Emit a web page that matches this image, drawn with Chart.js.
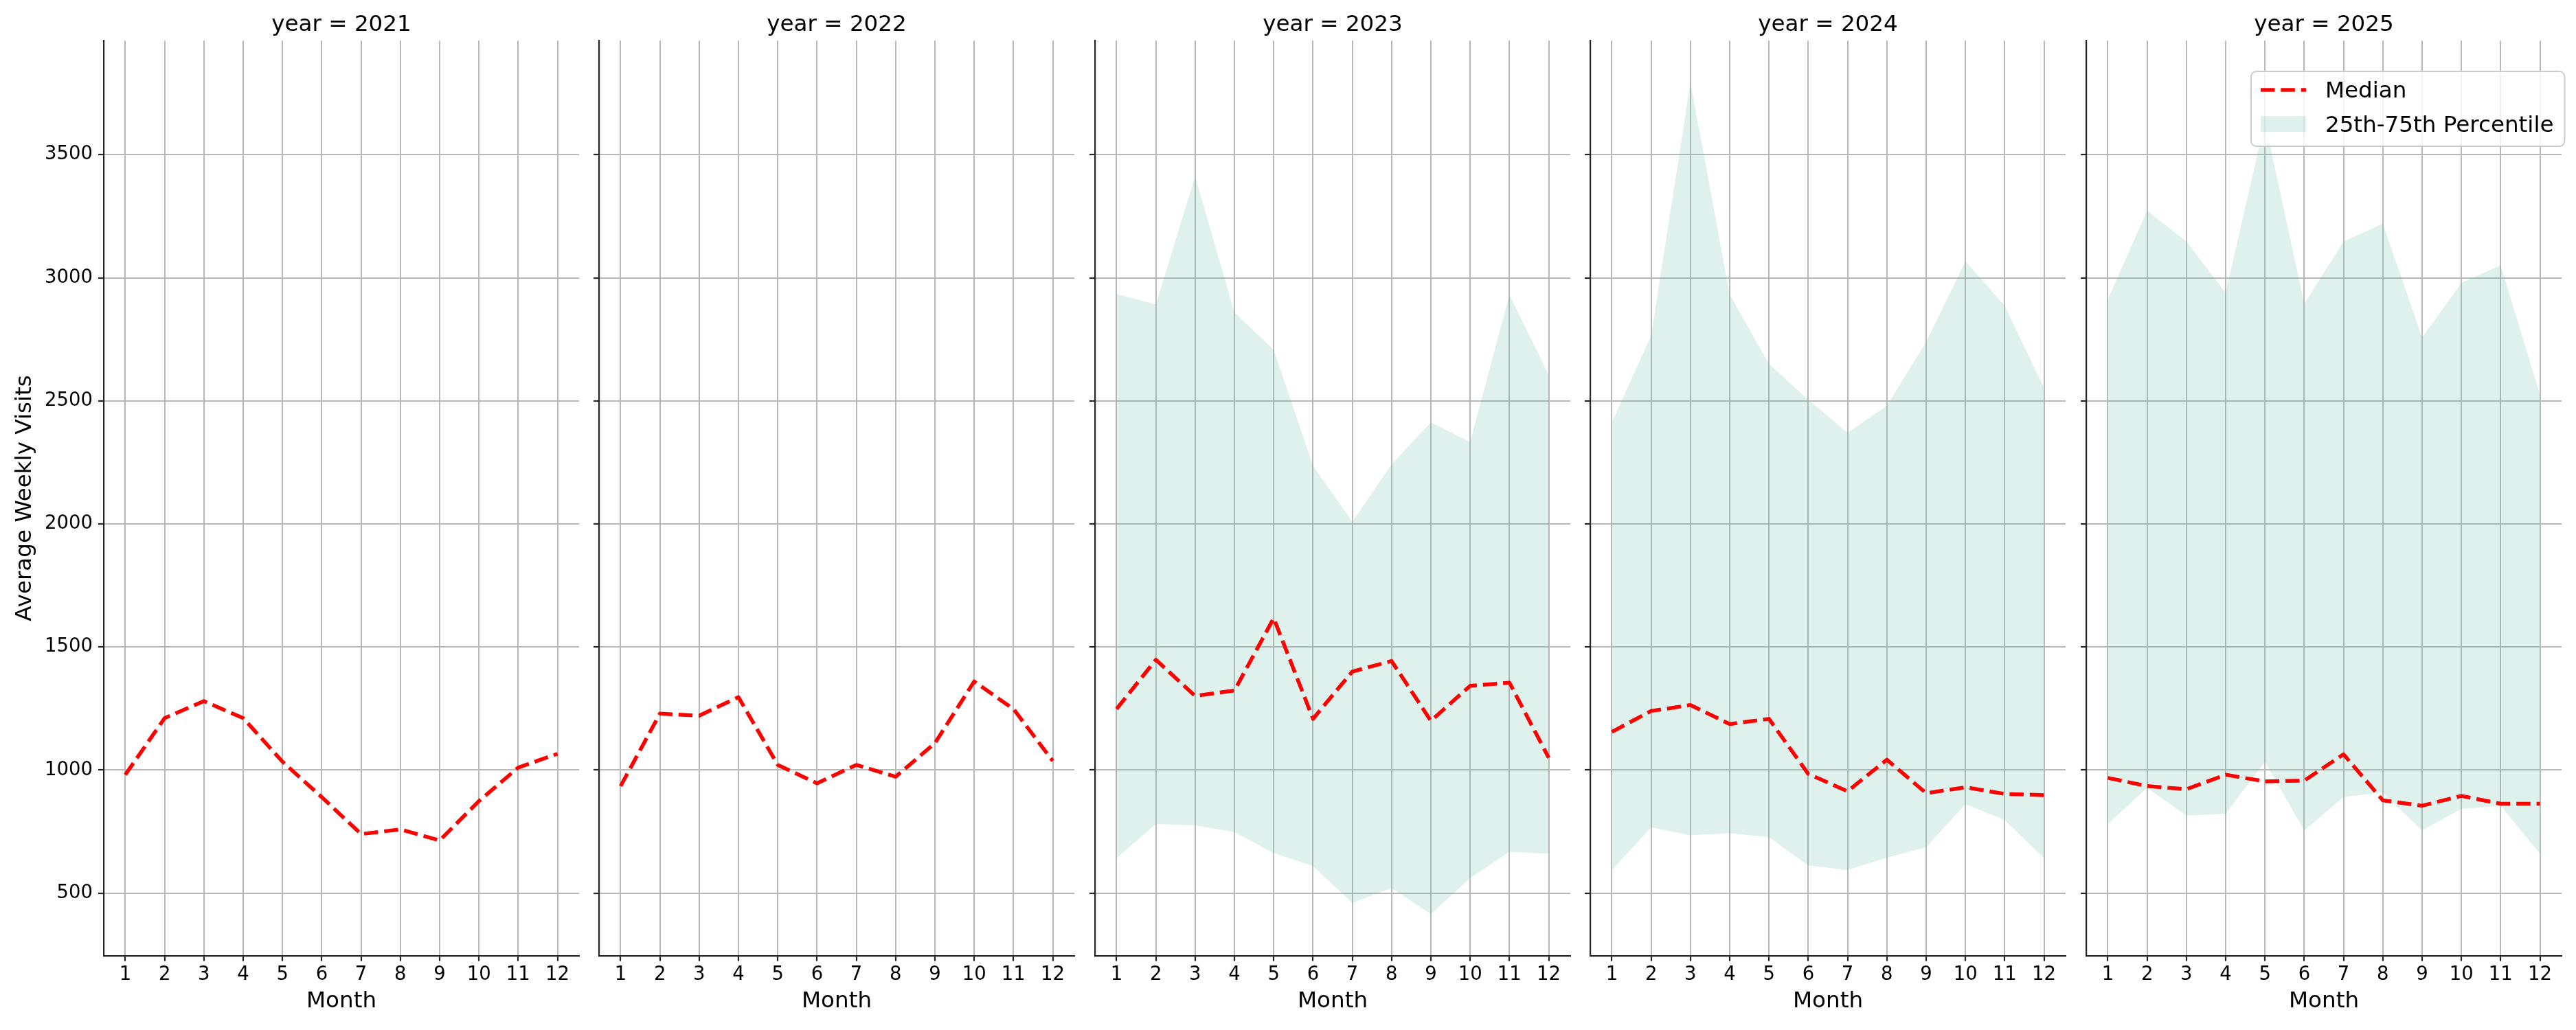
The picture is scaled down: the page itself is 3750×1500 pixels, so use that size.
<!DOCTYPE html>
<html>
<head>
<meta charset="utf-8">
<script src="https://cdn.jsdelivr.net/npm/chart.js@4.4.1/dist/chart.umd.min.js"></script>
<style>
  html, body { margin: 0; padding: 0; background: #fff; overflow: hidden; }
  #wrap { position: relative; width: 3750px; height: 1500px; }
</style>
</head>
<body>
<div id="wrap"></div>
<script>
// data
const years = [2021, 2022, 2023, 2024, 2025];
const months = [1, 2, 3, 4, 5, 6, 7, 8, 9, 10, 11, 12];
const yTicks = [500, 1000, 1500, 2000, 2500, 3000, 3500];

const median2021 = [981, 1211, 1280, 1211, 1034, 890, 740, 759, 714, 874, 1010, 1066];
const median2022 = [935, 1229, 1221, 1296, 1021, 946, 1021, 973, 1109, 1360, 1248, 1037];

const median2023 = [1248, 1448, 1301, 1323, 1617, 1208, 1400, 1443, 1200, 1342, 1355, 1050];
const p25_2023 = [642, 781, 775, 748, 663, 610, 460, 521, 415, 561, 668, 660];
const p75_2023 = [2934, 2891, 3412, 2859, 2707, 2236, 2009, 2242, 2413, 2333, 2931, 2605];

const median2024 = [1155, 1240, 1264, 1187, 1208, 984, 914, 1042, 906, 930, 903, 898];
const p25_2024 = [594, 767, 735, 743, 727, 612, 594, 644, 687, 861, 797, 642];
const p75_2024 = [2413, 2765, 3794, 2931, 2650, 2504, 2370, 2480, 2739, 3067, 2886, 2552];

const median2025 = [968, 935, 922, 981, 954, 957, 1064, 877, 855, 895, 863, 863];
const p25_2025 = [781, 927, 815, 823, 1034, 754, 890, 909, 754, 842, 855, 660];
const p75_2025 = [2912, 3273, 3147, 2939, 3635, 2894, 3147, 3220, 2757, 2979, 3051, 2525];

const medians = [median2021, median2022, median2023, median2024, median2025];
const lows = [null, null, p25_2023, p25_2024, p25_2025];
const highs = [null, null, p75_2023, p75_2024, p75_2025];

// shared limits, 5% margins like matplotlib
const allVals = medians.concat(lows, highs).filter(Boolean).flat();
const vMin = Math.min(...allVals), vMax = Math.max(...allVals);
const yMin = vMin - 0.05 * (vMax - vMin);
const yMax = vMax + 0.05 * (vMax - vMin);
const xMin = months[0] - 0.05 * (months[months.length - 1] - months[0]);
const xMax = months[months.length - 1] + 0.05 * (months[months.length - 1] - months[0]);

const spine = '#262626';
const gridCol = '#b8b8b8';
const bandCol = 'rgba(95,185,160,0.2)';
const tickSize = 27.5, labelSize = 32.6;

Chart.defaults.font.family = "'DejaVu Sans', sans-serif";
Chart.defaults.color = '#000';
Chart.defaults.animation = false;

// legend box drawn inside the last panel (upper right)
const cornerLegend = {
  id: 'cornerLegend',
  afterDraw(chart) {
    const ctx = chart.ctx, a = chart.chartArea;
    const med = chart.data.datasets[0];
    const band = chart.data.datasets[2];
    ctx.save();
    ctx.font = labelSize + "px 'DejaVu Sans'";
    const textW = Math.max(ctx.measureText(med.label).width, ctx.measureText(band.label).width);
    const handle = 66, padL = 14, gap = 28, padR = 16, h = 109, r = 8;
    const w = padL + handle + gap + textW + padR;
    const right = a.right + 4.5, top = a.top + 44.7, left = right - w;
    ctx.beginPath();
    ctx.moveTo(left + r, top);
    ctx.arcTo(right, top, right, top + h, r);
    ctx.arcTo(right, top + h, left, top + h, r);
    ctx.arcTo(left, top + h, left, top, r);
    ctx.arcTo(left, top, right, top, r);
    ctx.closePath();
    ctx.fillStyle = 'rgba(255,255,255,0.8)';
    ctx.fill();
    ctx.strokeStyle = '#cccccc';
    ctx.lineWidth = 2;
    ctx.stroke();

    const hx = left + padL;
    ctx.setLineDash(med.borderDash);
    ctx.strokeStyle = med.borderColor;
    ctx.lineWidth = med.borderWidth;
    ctx.beginPath();
    ctx.moveTo(hx, top + 27);
    ctx.lineTo(hx + handle, top + 27);
    ctx.stroke();
    ctx.setLineDash([]);
    ctx.fillStyle = band.backgroundColor;
    ctx.fillRect(hx, top + 65, handle, 23);

    ctx.fillStyle = '#000';
    ctx.textBaseline = 'alphabetic';
    ctx.textAlign = 'left';
    ctx.fillText(med.label, hx + handle + gap, top + 37.7);
    ctx.fillText(band.label, hx + handle + gap, top + 87.7);
    ctx.restore();
  }
};

const wrap = document.getElementById('wrap');
const panelLeft0 = 151, panelStep = 721.4, panelW = 691.5, padRight = 10;

years.forEach((year, i) => {
  const first = i === 0;
  const last = i === years.length - 1;
  const yW = first ? 151 : 10;
  const left = Math.round(panelLeft0 + i * panelStep) - yW;
  const width = Math.round(yW + panelW + padRight);

  const canvas = document.createElement('canvas');
  canvas.width = width;
  canvas.height = 1500;
  canvas.style.cssText = `position:absolute;top:0;left:${left}px;width:${width}px;height:1500px;`;
  wrap.appendChild(canvas);

  const datasets = [{
    label: 'Median',
    data: months.map((m, k) => ({x: m, y: medians[i][k]})),
    borderColor: '#ff0000',
    borderWidth: 5.5,
    borderDash: [20.5, 8.9],
    borderJoinStyle: 'round',
    pointRadius: 0,
    fill: false,
    tension: 0
  }];
  if (lows[i]) {
    datasets.push({
      label: '25th percentile',
      data: months.map((m, k) => ({x: m, y: lows[i][k]})),
      borderColor: 'rgba(0,0,0,0)',
      borderWidth: 0,
      pointRadius: 0,
      fill: false
    });
    datasets.push({
      label: '25th-75th Percentile',
      data: months.map((m, k) => ({x: m, y: highs[i][k]})),
      borderColor: 'rgba(0,0,0,0)',
      borderWidth: 0,
      pointRadius: 0,
      backgroundColor: bandCol,
      fill: '-1'
    });
  }

  new Chart(canvas, {
    type: 'line',
    data: {datasets},
    plugins: last ? [cornerLegend] : [],
    options: {
      responsive: false,
      devicePixelRatio: 1,
      layout: {padding: {left: 0, top: 0, right: padRight, bottom: 0}},
      plugins: {
        legend: {display: false},
        tooltip: {enabled: false},
        title: {
          display: true,
          text: 'year = ' + year,
          fullSize: false,
          color: '#000',
          font: {size: labelSize, weight: 'normal'},
          padding: {top: 17.4, bottom: 2.8}
        }
      },
      scales: {
        x: {
          type: 'linear',
          min: xMin,
          max: xMax,
          afterBuildTicks: s => { s.ticks = months.map(v => ({value: v})); },
          afterFit: s => { s.height = 108.3; },
          grid: {color: gridCol, lineWidth: 2, drawTicks: true, tickLength: 8, tickColor: spine, tickWidth: 2.2},
          border: {display: true, color: spine, width: 2.2},
          ticks: {font: {size: tickSize}, color: '#000', padding: 3.3, maxRotation: 0, autoSkip: false, callback: v => String(v)},
          title: {display: true, text: 'Month', color: '#000', font: {size: labelSize}, padding: {top: 0, bottom: 22.4}}
        },
        y: {
          type: 'linear',
          min: yMin,
          max: yMax,
          afterBuildTicks: s => { s.ticks = yTicks.map(v => ({value: v})); },
          afterFit: s => { s.width = yW; },
          grid: {color: gridCol, lineWidth: 2, drawTicks: true, tickLength: 8, tickColor: spine, tickWidth: 2.2},
          border: {display: true, color: spine, width: 2.2},
          ticks: {display: first, font: {size: tickSize}, color: '#000', padding: 8, callback: v => String(v)},
          title: {display: first, text: 'Average Weekly Visits', color: '#000', font: {size: labelSize}, padding: {top: 17.4, bottom: 0}}
        }
      }
    }
  });
});
</script>
</body>
</html>
